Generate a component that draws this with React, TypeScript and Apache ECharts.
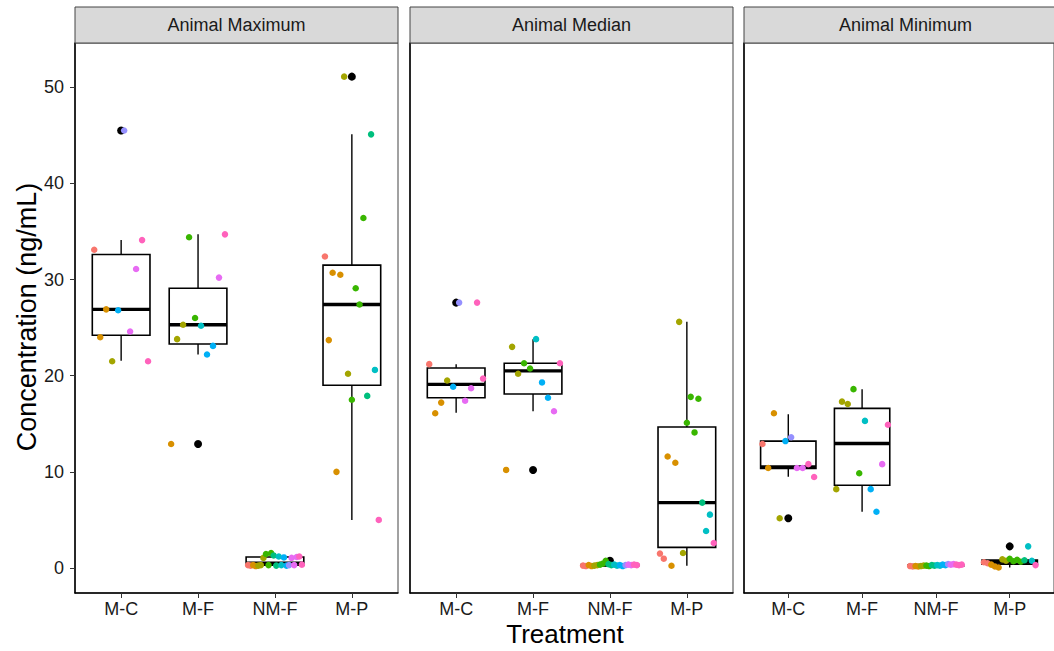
import React, { useEffect, useRef } from "react";
import * as echarts from "echarts";

const categories = ["M-C", "M-F", "NM-F", "M-P"];
const panelTitles = ["Animal Maximum", "Animal Median", "Animal Minimum"];
const yTicks = [0, 10, 20, 30, 40, 50];
const xTicks = [0, 1, 2, 3];
const palette = ["#F8766D", "#D89000", "#A3A500", "#39B600", "#00BF7D", "#00BFC4", "#00B0F6", "#9590FF", "#E76BF3", "#FF62BC"];

// points: [value, colour index]
const maxMC = [[33.1, 0], [24.0, 1], [26.9, 1], [21.5, 2], [26.8, 6], [45.5, 7], [24.6, 8], [31.1, 8], [34.1, 9], [21.5, 9]];
const maxMF = [[12.9, 1], [23.8, 2], [25.3, 2], [34.4, 3], [26.0, 3], [25.2, 5], [22.2, 6], [23.1, 6], [30.2, 8], [34.7, 9]];
const maxNMF = [[0.3, 0], [0.25, 0], [0.3, 1], [0.2, 1], [0.25, 2], [0.3, 2], [1.05, 2], [1.45, 3], [0.3, 3], [1.55, 3], [1.3, 4], [0.25, 4], [1.2, 5], [0.3, 5], [1.1, 6], [0.25, 6], [0.3, 7], [1.05, 8], [0.3, 8], [1.15, 8], [1.2, 9], [0.35, 9]];
const maxMP = [[32.4, 0], [23.7, 1], [30.7, 1], [10.0, 1], [30.5, 1], [51.1, 2], [20.2, 2], [17.5, 3], [29.1, 3], [27.4, 3], [36.4, 3], [17.9, 4], [45.1, 4], [20.6, 5], [5.0, 9]];

const medMC = [[21.2, 0], [16.1, 1], [17.2, 1], [19.5, 2], [18.85, 6], [27.6, 7], [17.4, 8], [18.7, 8], [27.6, 9], [19.7, 9]];
const medMF = [[10.2, 1], [23.0, 2], [20.2, 2], [21.3, 3], [20.75, 3], [23.8, 5], [19.3, 6], [17.7, 6], [16.3, 8], [21.3, 9]];
const medNMF = [[0.25, 0], [0.2, 0], [0.3, 1], [0.2, 1], [0.25, 2], [0.3, 2], [0.35, 3], [0.45, 3], [0.76, 3], [0.4, 4], [0.3, 4], [0.35, 5], [0.25, 5], [0.3, 6], [0.2, 6], [0.3, 7], [0.35, 8], [0.3, 8], [0.35, 9], [0.3, 9]];
const medMP = [[1.5, 0], [0.97, 0], [11.6, 1], [0.24, 1], [10.95, 1], [25.6, 2], [1.56, 2], [15.1, 3], [17.8, 3], [14.1, 3], [17.6, 3], [6.8, 4], [3.85, 5], [5.55, 5], [2.6, 9]];

const minMC = [[12.9, 0], [10.4, 1], [16.1, 1], [5.17, 2], [13.2, 6], [13.6, 7], [10.4, 8], [10.4, 8], [10.8, 9], [9.46, 9]];
const minMF = [[8.2, 2], [17.3, 2], [17.05, 2], [18.6, 3], [9.85, 3], [15.3, 5], [8.2, 6], [5.85, 6], [10.8, 8], [14.9, 9]];
const minNMF = [[0.2, 0], [0.15, 0], [0.2, 1], [0.15, 1], [0.2, 2], [0.25, 2], [0.25, 3], [0.2, 3], [0.3, 4], [0.25, 4], [0.3, 5], [0.25, 5], [0.35, 6], [0.3, 6], [0.4, 7], [0.35, 8], [0.4, 8], [0.35, 9], [0.3, 9], [0.35, 9]];
const minMP = [[0.6, 0], [0.5, 0], [0.35, 1], [0.15, 1], [0.05, 1], [0.9, 2], [0.75, 2], [0.95, 3], [0.7, 3], [0.85, 3], [0.65, 3], [0.8, 4], [2.25, 5], [0.75, 5], [0.3, 9]];

// box stats: [lower whisker, Q1, median, Q3, upper whisker]
const maxBoxes = [[21.55, 24.2, 26.9, 32.6, 34.1], [22.2, 23.3, 25.3, 29.1, 34.7], [0.2, 0.28, 0.5, 1.15, 1.55], [5.0, 19.0, 27.4, 31.5, 45.1]];
const medBoxes = [[16.15, 17.7, 19.1, 20.8, 21.2], [16.3, 18.1, 20.5, 21.3, 23.8], [0.2, 0.25, 0.3, 0.35, 0.45], [0.24, 2.15, 6.8, 14.66, 25.6]];
const minBoxes = [[9.5, 10.36, 10.5, 13.2, 16.0], [5.85, 8.6, 12.95, 16.6, 18.6], [0.15, 0.2, 0.27, 0.33, 0.4], [0.05, 0.4, 0.62, 0.82, 1.0]];

// outliers: [category index, value]
const maxOutliers = [[0, 45.5], [1, 12.9], [3, 51.1]];
const medOutliers = [[0, 27.6], [1, 10.2], [2, 0.76]];
const minOutliers = [[0, 5.17], [3, 2.25]];

const panelPoints = [
  [maxMC, maxMF, maxNMF, maxMP],
  [medMC, medMF, medNMF, medMP],
  [minMC, minMF, minNMF, minMP],
];
const panelBoxes = [maxBoxes, medBoxes, minBoxes];
const panelOutliers = [maxOutliers, medOutliers, minOutliers];

const FONT = "'Liberation Sans', Arial, sans-serif";
const gridLefts = [75, 410, 744];
const gridWidth = 323;
const gridTop = 43;
const gridHeight = 550;
const DODGE = 0.35;
const BOX_W = 0.75;

export default function App() {
  const ref = useRef<HTMLDivElement>(null);
  useEffect(() => {
    if (!ref.current) return;
    const chart = echarts.init(ref.current, null, { renderer: "svg" });

    const grid = gridLefts.map((l) => ({
      left: l,
      top: gridTop,
      width: gridWidth,
      height: gridHeight,
      show: true,
      backgroundColor: "#ffffff",
      borderColor: "#444",
      borderWidth: 1,
      containLabel: false,
    }));

    const xAxis = gridLefts.map((_, p) => ({
      type: "value",
      gridIndex: p,
      min: -0.6,
      max: 3.6,
      axisLine: { show: true, onZero: false, lineStyle: { color: "#000", width: 1.5 } },
      axisTick: { show: true, customValues: xTicks, length: 5, lineStyle: { color: "#333", width: 1 } },
      axisLabel: {
        show: true,
        customValues: xTicks,
        formatter: (v: number) => categories[Math.round(v)] ?? "",
        fontSize: 18,
        color: "#1a1a1a",
        fontFamily: FONT,
        margin: 7,
      },
      splitLine: { show: false },
    }));

    const yAxis = gridLefts.map((_, p) => ({
      type: "value",
      gridIndex: p,
      min: -2.6,
      max: 54.6,
      axisLine: { show: true, onZero: false, lineStyle: { color: "#000", width: 1.5 } },
      axisTick: { show: p === 0, customValues: yTicks, length: 5, lineStyle: { color: "#333", width: 1 } },
      axisLabel: {
        show: p === 0,
        customValues: yTicks,
        fontSize: 18,
        color: "#1a1a1a",
        fontFamily: FONT,
        margin: 11,
      },
      splitLine: { show: false },
    }));

    const series: any[] = [];
    panelBoxes.forEach((boxes, p) => {
      series.push({
        type: "custom",
        xAxisIndex: p,
        yAxisIndex: p,
        encode: { x: 0, y: [1, 2, 3, 4, 5] },
        data: boxes.map((b, i) => [i, ...b]),
        renderItem: (params: any, api: any) => {
          const x = api.value(0);
          const lo = api.coord([x, api.value(1)]);
          const q1 = api.coord([x, api.value(2)]);
          const md = api.coord([x, api.value(3)]);
          const q3 = api.coord([x, api.value(4)]);
          const hi = api.coord([x, api.value(5)]);
          const left = api.coord([x - BOX_W / 2, 0])[0];
          const right = api.coord([x + BOX_W / 2, 0])[0];
          const cx = lo[0];
          const stroke = { stroke: "#000", lineWidth: 1.4, fill: null };
          return {
            type: "group",
            children: [
              { type: "line", shape: { x1: cx, y1: q1[1], x2: cx, y2: lo[1] }, style: stroke },
              { type: "line", shape: { x1: cx, y1: q3[1], x2: cx, y2: hi[1] }, style: stroke },
              { type: "rect", shape: { x: left, y: q3[1], width: right - left, height: q1[1] - q3[1] }, style: { stroke: "#000", lineWidth: 1.6, fill: "rgba(255,255,255,0)" } },
              { type: "line", shape: { x1: left, y1: md[1], x2: right, y2: md[1] }, style: { stroke: "#000", lineWidth: 3.4 } },
            ],
          };
        },
        z: 2,
      });
    });
    panelOutliers.forEach((outs, p) => {
      series.push({
        type: "scatter",
        xAxisIndex: p,
        yAxisIndex: p,
        symbol: "circle",
        symbolSize: 8,
        itemStyle: { color: "#000", opacity: 1 },
        data: outs.map((o) => [o[0], o[1]]),
        z: 3,
      });
    });
    panelPoints.forEach((groups, p) => {
      const data: any[] = [];
      groups.forEach((pts, g) => {
        const n = pts.length;
        pts.forEach((pt, i) => {
          const off = n > 1 ? -DODGE + (2 * DODGE * i) / (n - 1) : 0;
          data.push({ value: [g + off, pt[0]], itemStyle: { color: palette[pt[1]], opacity: 1 } });
        });
      });
      series.push({
        type: "scatter",
        xAxisIndex: p,
        yAxisIndex: p,
        symbol: "circle",
        symbolSize: 6.5,
        itemStyle: { opacity: 1 },
        data,
        z: 4,
      });
    });

    const graphic: any[] = [];
    gridLefts.forEach((l, p) => {
      graphic.push({
        type: "rect",
        shape: { x: l, y: 7, width: gridWidth, height: 36 },
        style: { fill: "#d9d9d9", stroke: "#444", lineWidth: 1 },
        z: 10,
      });
      graphic.push({
        type: "text",
        x: l + gridWidth / 2,
        y: 25,
        style: {
          text: panelTitles[p],
          fontSize: 18,
          fontFamily: FONT,
          fill: "#1a1a1a",
          textAlign: "center",
          textVerticalAlign: "middle",
        },
        z: 11,
      });
    });
    graphic.push({
      type: "text",
      x: 27,
      y: 317,
      rotation: Math.PI / 2,
      style: {
        text: "Concentration (ng/mL)",
        fontSize: 27,
        fontFamily: FONT,
        fill: "#000",
        textAlign: "center",
        textVerticalAlign: "middle",
      },
    });
    graphic.push({
      type: "text",
      x: 565,
      y: 634,
      style: {
        text: "Treatment",
        fontSize: 26,
        fontFamily: FONT,
        fill: "#000",
        textAlign: "center",
        textVerticalAlign: "middle",
      },
    });

    chart.setOption({
      animation: false,
      backgroundColor: "#ffffff",
      grid,
      xAxis,
      yAxis,
      series,
      graphic,
    });
    return () => chart.dispose();
  }, []);
  return <div ref={ref} style={{ position: "fixed", left: 0, top: 0, width: 1054, height: 651 }} />;
}
